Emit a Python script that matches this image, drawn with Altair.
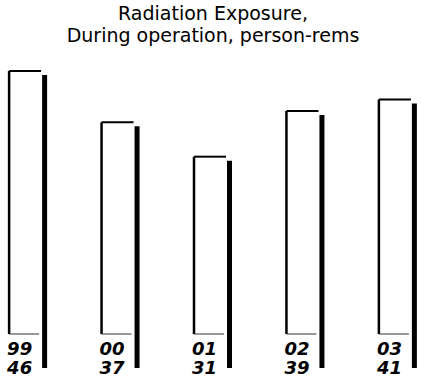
import altair as alt
import pandas as pd

years = ["99", "00", "01", "02", "03"]
values = [46, 37, 31, 39, 41]

df = pd.DataFrame({"year": years, "value": values, "label": [str(v) for v in values]})

FONT = "DejaVu Sans"

x = alt.X("year:N", sort=years, axis=None,
          scale=alt.Scale(paddingInner=0.5, paddingOuter=0))
yscale = alt.Scale(domain=[-7.168, 49.65], nice=False, zero=False)
y = alt.Y("value:Q", axis=None, scale=yscale)
y0 = alt.Y(datum=0, scale=yscale, axis=None)

base = alt.Chart(df)

left_edge = base.mark_rule(color="black", strokeWidth=2.5, xOffset=-19).encode(
    x=x, y=y, y2=alt.datum(0))
top_edge = base.mark_tick(color="black", thickness=2, size=32, xOffset=-3,
                          orient="horizontal", opacity=1).encode(x=x, y=y)
bottom_edge = base.mark_tick(color="#333333", thickness=1, size=30, xOffset=-4,
                             orient="horizontal", opacity=1).encode(x=x, y=y0)
shadow = base.mark_bar(color="black", width=5, xOffset=16.5, yOffset=4, y2Offset=34).encode(
    x=x, y=y, y2=alt.datum(0))
year_text = base.mark_text(align="left", baseline="alphabetic", dx=-21, dy=21,
                           font=FONT, fontSize=18, fontStyle="italic", fontWeight="bold",
                           color="black").encode(x=x, y=y0, text="year:N")
value_text = base.mark_text(align="left", baseline="alphabetic", dx=-21, dy=40,
                            font=FONT, fontSize=18, fontStyle="italic", fontWeight="bold",
                            color="black").encode(x=x, y=y0, text="label:N")

chart = alt.layer(left_edge, top_edge, bottom_edge, shadow, year_text, value_text).properties(
    width=416, height=325,
    padding={"left": 5, "top": 50, "right": 0, "bottom": 7},
    autosize=alt.AutoSizeParams(type="none"),
    background="white",
    title=alt.TitleParams(
        text=["Radiation Exposure,", "During operation, person-rems"],
        font=FONT, fontSize=19, fontWeight="normal", color="black",
        anchor="middle", lineHeight=22, offset=4),
).configure_view(stroke=None)

chart.save("out.html", embed_options={"renderer": "svg", "actions": False})
